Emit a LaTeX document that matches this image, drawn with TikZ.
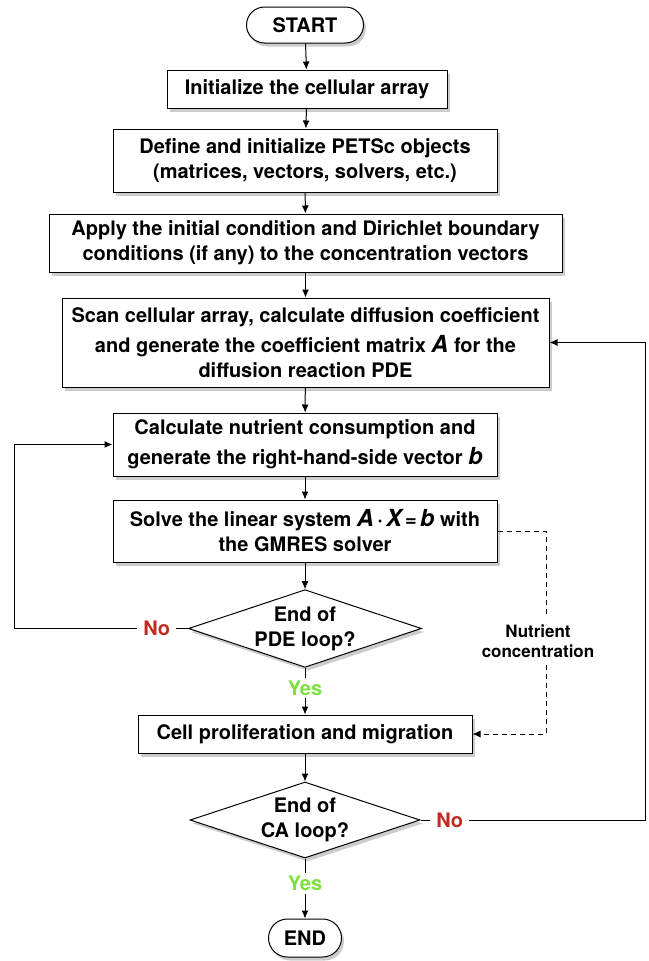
\documentclass[tikz,border=0pt]{standalone}
\usepackage{fontspec}
\setmainfont{TeX Gyre Heros}
\usepackage{tikz}
\usetikzlibrary{shapes.geometric,shapes.misc,shadows,arrows.meta}
\definecolor{oui_vert}{HTML}{7EE040}
\definecolor{non_rouge}{HTML}{C4281E}
\newcommand{\grandvec}[1]{{\fontsize{23.5}{25}\selectfont\itshape #1}}

\begin{document}
\begin{tikzpicture}[x=1pt,y=-1pt,>={Latex[length=8pt,width=7pt]},
    every node/.style={font=\fontsize{20}{25}\selectfont\bfseries},
    boite/.style={draw,line width=1pt,fill=white,align=center,inner sep=2pt,
        drop shadow={shadow xshift=2.5pt,shadow yshift=-3.5pt,opacity=0.4}},
    terminal/.style={boite,rounded rectangle},
    test/.style={boite,diamond,aspect=3,inner sep=0pt},
    oui/.style={fill=white,text=oui_vert,inner sep=3pt},
    non/.style={fill=white,text=non_rouge,inner sep=6pt},
    pointille/.style={line width=0.8pt,dash pattern=on 5pt off 4pt}]

    \useasboundingbox (0,0) rectangle (648,961);

    % Les blocs du schéma
    \node[terminal,minimum width=121pt,minimum height=36pt] (start) at (305,25) {START};
    \node[boite,minimum width=280pt,minimum height=38pt] (init) at (307,89) {Initialize the cellular array};
    \node[boite,minimum width=384pt,minimum height=63pt] (petsc) at (305,160.5) {Define and initialize PETSc objects\\(matrices, vectors, solvers, etc.)};
    \node[boite,minimum width=513pt,minimum height=58pt] (apply) at (305.5,243) {Apply the initial condition and Dirichlet boundary\\conditions (if any) to the concentration vectors};
    \node[boite,minimum width=487pt,minimum height=89pt] (scan) at (305.5,342.5) {Scan cellular array, calculate diffusion coefficient\\[5pt]and generate the coefficient matrix \grandvec{A} for the\\diffusion reaction PDE};
    \node[boite,minimum width=384pt,minimum height=63pt] (nutr) at (305,444.5) {Calculate nutrient consumption and\\[5pt]generate the right-hand-side vector \grandvec{b}};
    \node[boite,minimum width=384pt,minimum height=62pt] (solve) at (305,531) {Solve the linear system \grandvec{A}\,·\,\grandvec{X}\,=\,\grandvec{b} with\\the GMRES solver};
    \node[test,minimum width=228pt,minimum height=75pt] (pde) at (305,628.5) {End of\\PDE loop?};
    \node[boite,minimum width=334pt,minimum height=38pt] (cell) at (305,734) {Cell proliferation and migration};
    \node[test,minimum width=230pt,minimum height=76pt] (ca) at (305,820) {End of\\CA loop?};
    \node[terminal,minimum width=77pt,minimum height=38pt] (end) at (305,938) {END};

    \node[align=center,font=\fontsize{17}{20}\selectfont\bfseries] (conc) at (538,641) {Nutrient\\concentration};

    % Points de passage des boucles
    \coordinate (lft) at (14,628.5);
    \coordinate (rgt) at (645,820);
    \coordinate (dtop) at (546,615);
    \coordinate (dbot) at (546,665);

    % Flèches principales
    \draw[->,line width=1pt] (start) -- (init);
    \draw[->,line width=1pt] (init) -- (petsc);
    \draw[->,line width=1pt] (petsc) -- (apply);
    \draw[->,line width=1pt] (apply) -- (scan);
    \draw[->,line width=1pt] (scan) -- (nutr);
    \draw[->,line width=1pt] (nutr) -- (solve);
    \draw[->,line width=1pt] (solve) -- (pde);
    \draw[->,line width=1pt] (pde) -- node[oui,pos=0.43] {Yes} (cell);
    \draw[->,line width=1pt] (cell) -- (ca);
    \draw[->,line width=1pt] (ca) -- node[oui,pos=0.42] {Yes} (end);

    % Boucles de retour
    \draw[->,line width=1pt] (pde.west) -- node[non,pos=0.18] {No} (lft) |- (nutr.west);
    \draw[->,line width=1pt] (ca.east) -- node[non,pos=0.13] {No} (rgt) |- (scan.east);

    % Concentration (pointillés)
    \draw[pointille] (solve.east) -| (dtop);
    \draw[pointille,->] (dbot) |- (cell.east);
\end{tikzpicture}
\end{document}
